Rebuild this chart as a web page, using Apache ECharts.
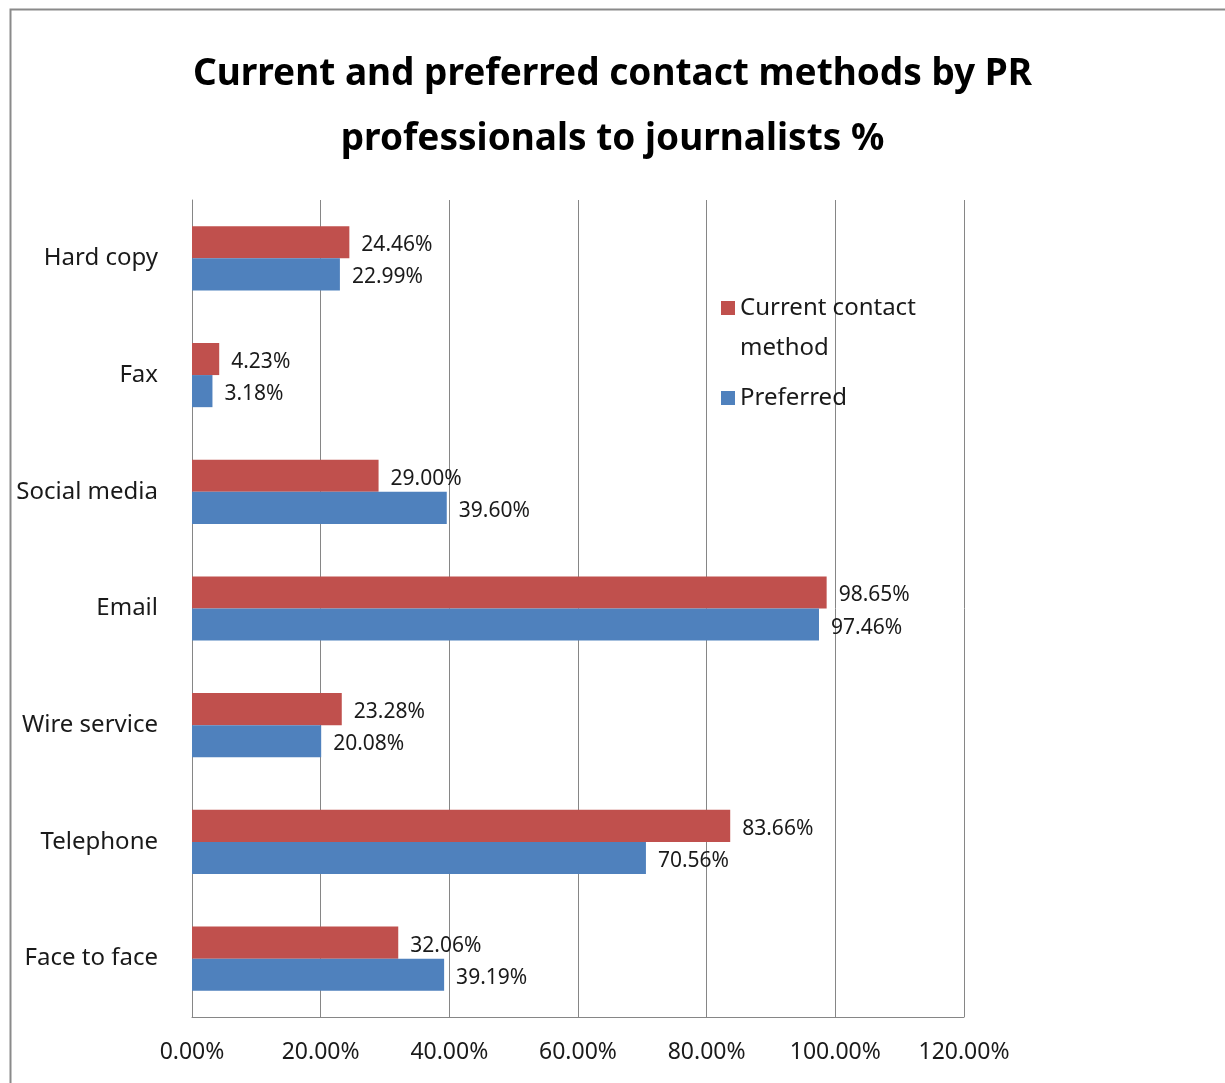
<!DOCTYPE html>
<html>
<head>
<meta charset="utf-8">
<script src="https://cdn.jsdelivr.net/npm/echarts@6/dist/echarts.min.js"></script>
<style>html,body{margin:0;padding:0;background:#fff}#c{width:1225px;height:1083px}</style>
</head>
<body>
<div id="c"></div>
<script>
const categories = ['Hard copy', 'Fax', 'Social media', 'Email', 'Wire service', 'Telephone', 'Face to face'];
const currentValues = [24.46, 4.23, 29.00, 98.65, 23.28, 83.66, 32.06];
const preferredValues = [22.99, 3.18, 39.60, 97.46, 20.08, 70.56, 39.19];
const xTicks = [0, 20, 40, 60, 80, 100, 120];
const seriesNames = ['Current contact method', 'Preferred'];

const FONT = 'Noto Sans';
const chart = echarts.init(document.getElementById('c'), null, {renderer: 'canvas'});
const labelCfg = {
  show: true, position: 'right', distance: 12, offset: [0, 3],
  fontFamily: FONT, fontSize: 21, color: '#1a1a1a',
  formatter: p => p.value.toFixed(2) + '%'
};
const legendText = {fontFamily: FONT, fontSize: 24, color: '#1a1a1a', lineHeight: 40};
chart.setOption({
  animation: false,
  backgroundColor: '#fff',
  graphic: [{
    type: 'rect', left: 8, top: 7,
    shape: {width: 1216, height: 1100},
    style: {fill: 'none', stroke: '#8a8a8a', lineWidth: 2}
  }],
  title: {
    text: 'Current and preferred contact methods by PR\nprofessionals to journalists %',
    left: 'center', top: 37,
    textStyle: {fontFamily: FONT, fontWeight: 'bold', fontSize: 37, lineHeight: 65, color: '#000'}
  },
  legend: [{
    orient: 'vertical', left: 716, top: 283,
    itemWidth: 14, itemHeight: 80, itemGap: 0,
    textStyle: legendText,
    formatter: n => 'Current contact\nmethod',
    data: [{name: seriesNames[0],
      icon: 'path://M0,0L0.01,0L0.01,0.01Z M0,13L14,13L14,27L0,27Z M0,80L0.01,80L0.01,79.99Z'}]
  }, {
    orient: 'vertical', left: 716, top: 373,
    itemWidth: 14, itemHeight: 14, itemGap: 0,
    icon: 'rect',
    textStyle: legendText,
    data: [seriesNames[1]]
  }],
  grid: {left: 192, right: 261, top: 200, bottom: 66, containLabel: false},
  xAxis: {
    type: 'value', min: xTicks[0], max: xTicks[xTicks.length - 1], interval: 20,
    axisLine: {show: true, lineStyle: {color: '#868686'}},
    axisTick: {show: false},
    axisLabel: {fontFamily: FONT, fontSize: 23, color: '#1a1a1a', margin: 24,
      formatter: v => v.toFixed(2) + '%'},
    splitLine: {show: true, lineStyle: {color: '#868686', width: 1}}
  },
  yAxis: {
    type: 'category', data: categories, inverse: true,
    axisLine: {show: true, lineStyle: {color: '#868686'}},
    axisTick: {show: false},
    axisLabel: {fontFamily: FONT, fontSize: 24, color: '#1a1a1a', margin: 34}
  },
  series: [
    {name: seriesNames[0], type: 'bar', data: currentValues, barGap: '0%', barCategoryGap: '45%',
      itemStyle: {color: '#C0504D'}, label: labelCfg},
    {name: seriesNames[1], type: 'bar', data: preferredValues, barGap: '0%', barCategoryGap: '45%',
      itemStyle: {color: '#4F81BD'}, label: labelCfg}
  ]
});
</script>
</body>
</html>
